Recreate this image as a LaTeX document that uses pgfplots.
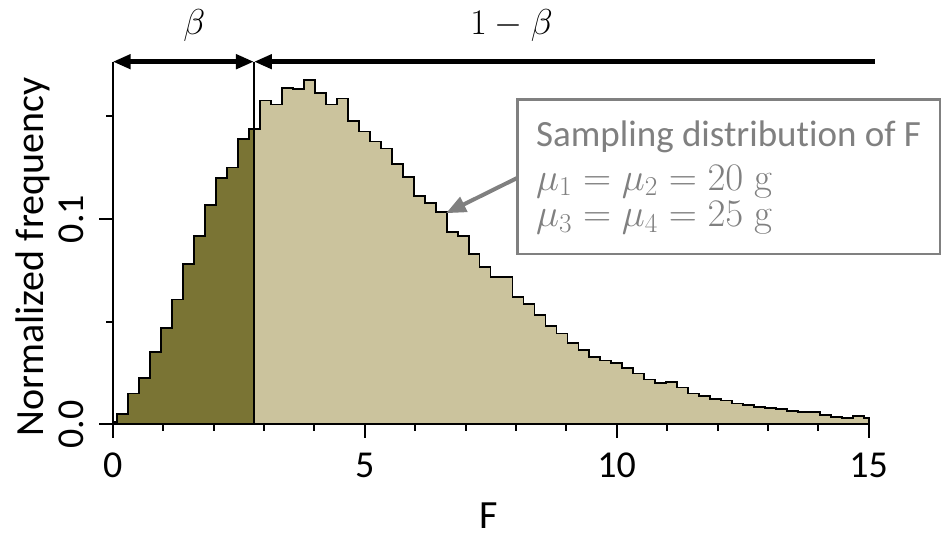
\RequirePackage{fix-cm}
\documentclass[border=0pt]{standalone}
\usepackage[no-math]{fontspec}
\setmainfont{Carlito}[Ligatures=NoCommon]
\usepackage{pgfplots}
\pgfplotsset{compat=1.18}
\usepackage{pgfplotstable}
\usetikzlibrary{arrows.meta}
\definecolor{darkolive}{HTML}{7A7434}
\definecolor{lightolive}{HTML}{CBC39D}
\definecolor{annot}{HTML}{808080}

\pgfplotstableread{
x y
0 0.0010
0.092 0.0052
0.310 0.0150
0.528 0.0226
0.745 0.0351
0.963 0.0470
1.181 0.0608
1.399 0.0782
1.617 0.0917
1.834 0.1068
2.052 0.1198
2.270 0.1251
2.488 0.1390
2.706 0.1439
2.803 0.1439
}\darkdata

\pgfplotstableread{
x y
2.803 0.1439
2.923 0.1577
3.141 0.1558
3.359 0.1636
3.577 0.1633
3.795 0.1678
4.012 0.1615
4.230 0.1558
4.448 0.1587
4.666 0.1477
4.884 0.1426
5.101 0.1377
5.319 0.1343
5.537 0.1268
5.755 0.1205
5.973 0.1112
6.190 0.1077
6.408 0.1033
6.626 0.0935
6.844 0.0917
7.062 0.0829
7.279 0.0768
7.497 0.0716
7.715 0.0716
7.933 0.0620
8.151 0.0585
8.368 0.0532
8.586 0.0480
8.804 0.0442
9.022 0.0397
9.240 0.0361
9.457 0.0329
9.675 0.0311
9.893 0.0298
10.111 0.0273
10.329 0.0247
10.546 0.0218
10.764 0.0202
10.982 0.0205
11.200 0.0179
11.418 0.0150
11.635 0.0138
11.853 0.0124
12.071 0.0116
12.289 0.0101
12.507 0.0093
12.724 0.0083
12.942 0.0078
13.160 0.0075
13.378 0.0064
13.596 0.0059
13.813 0.0059
14.031 0.0047
14.249 0.0034
14.467 0.0031
14.685 0.0039
14.902 0.0029
15.000 0.0029
}\lightdata

\begin{document}
\begin{tikzpicture}
\begin{axis}[
  at={(0,0)}, anchor=south west,
  scale only axis, width=756pt, height=362.6pt,
  xmin=0, xmax=15, ymin=0, ymax=0.1766,
  axis x line=bottom, axis y line=left,
  axis line style={-, line width=2pt},
  axis on top,
  clip=false,
  xtick={0,5,10,15}, xticklabels={0,5,10,15},
  minor xtick={1,2,3,4,6,7,8,9,11,12,13,14},
  ytick={0,0.1}, yticklabels={0.0,0.1},
  minor ytick={0.05,0.15},
  tick align=outside,
  major tick length=13.5pt, minor tick length=6.5pt,
  every tick/.append style={black, line width=2pt},
  tick label style={font=\fontsize{38}{40}\selectfont},
  xticklabel style={anchor=north, inner sep=0pt},
  yticklabel style={rotate=90, anchor=south, inner sep=0pt},
  xticklabel shift=15pt, yticklabel shift=15pt,
  xlabel={F}, ylabel={Normalized frequency},
  label style={font=\fontsize{40}{44}\selectfont},
  xlabel style={at={(axis description cs:0.4977,-0.2887)}, anchor=base, inner sep=0pt},
  ylabel style={at={(axis description cs:-0.0918,0.4614)}, anchor=base, inner sep=0pt},
]
\addplot[const plot, fill=darkolive, draw=black, line width=1.8pt] table {\darkdata} \closedcycle;
\addplot[const plot, fill=lightolive, draw=black, line width=1.8pt] table {\lightdata} \closedcycle;
\draw[black, line width=1.6pt] (axis cs:2.803,0) -- (axis cs:2.803,0.1766);
\draw[black, line width=4.5pt, {Triangle[length=18pt,width=14pt]}-{Triangle[length=18pt,width=14pt]}] (axis cs:0,0.1766) -- (axis cs:2.803,0.1766);
\draw[black, line width=4.5pt, {Triangle[length=18pt,width=14pt]}-] (axis cs:2.803,0.1766) -- (axis cs:15.125,0.1766);
\node[anchor=base, inner sep=0pt, font=\fontsize{36}{40}\selectfont] at (axis cs:1.62,0.1896) {$\beta$};
\node[anchor=base, inner sep=0pt, font=\fontsize{36}{40}\selectfont] at (axis cs:7.913,0.1896) {$1-\beta$};
\draw[annot, line width=2.5pt, fill=white] (axis cs:8.028,0.0830) rectangle (axis cs:16.415,0.1583);
\draw[annot, line width=4pt, -{Triangle[length=20pt,width=16pt]}] (axis cs:8.028,0.1200) -- (axis cs:6.613,0.1028);
\node[anchor=base west, inner sep=0pt, text=annot, font=\fontsize{37}{44}\selectfont] at (axis cs:8.399,0.1351) {Sampling distribution of F};
\node[anchor=base west, inner sep=0pt, text=annot, font=\fontsize{39}{44}\selectfont] at (axis cs:8.399,0.1141) {$\mu_1=\mu_2=20\;\mathrm{g}$};
\node[anchor=base west, inner sep=0pt, text=annot, font=\fontsize{39}{44}\selectfont] at (axis cs:8.399,0.0961) {$\mu_3=\mu_4=25\;\mathrm{g}$};
\end{axis}
\pgfresetboundingbox
\path[use as bounding box] (-112.7pt,-109.7pt) rectangle (831.3pt,424.3pt);
\end{tikzpicture}
\end{document}
